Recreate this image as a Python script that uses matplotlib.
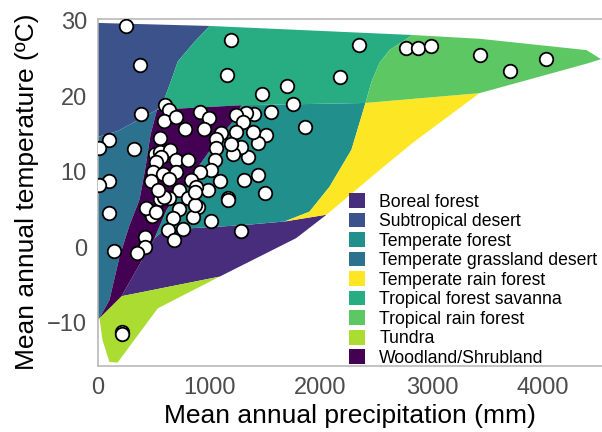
import matplotlib.pyplot as plt
from matplotlib.patches import Patch

plt.rcParams['font.family'] = ['Liberation Sans', 'DejaVu Sans']

# Biome polygons (precipitation mm, temperature C)
tundra_p = [13, 40, 103, 175, 537, 1093, 211]
tundra_t = [-9.4, -12.3, -15.2, -15.3, -8.1, -3.9, -6.5]

boreal_p = [508, 597, 1289, 1676, 2053, 1781, 1093, 211]
boreal_t = [1.2, 2.3, 2.9, 3.4, 4.3, 1.2, -3.9, -6.5]

woodland_p = [530, 1289, 1199, 1110, 615, 508, 211, 13, 103, 193, 283, 373, 427, 472]
woodland_t = [18.2, 18.8, 16.4, 14.9, 4.9, 1.2, -6.5, -9.4, -7.0, -1.3, 2.9, 6.3, 10.6, 14.9]

grassland_p = [0, 180, 530, 472, 427, 373, 283, 193, 103, 13, 0]
grassland_t = [14.6, 15.4, 18.2, 14.9, 10.6, 6.3, 2.9, -1.3, -7.0, -9.4, -9.6]

desert_p = [0, 1002, 867, 717, 658, 598, 530, 180, 0]
desert_t = [29.7, 29.3, 27.2, 24.6, 22.1, 19.7, 18.2, 15.4, 14.6]

savanna_p = [1002, 2825, 2619, 2529, 2457, 2403, 1289, 530, 598, 658, 717, 867]
savanna_t = [29.3, 28.1, 26.1, 24.4, 21.9, 19.1, 18.8, 18.2, 19.7, 22.1, 24.6, 27.2]

trop_rain_p = [2825, 3430, 4389, 4520, 4389, 3428, 2403, 2457, 2529, 2619]
trop_rain_t = [28.1, 27.6, 26.1, 24.9, 24.3, 20.4, 19.1, 21.9, 24.4, 26.1]

temp_rain_p = [2403, 3428, 2826, 2529, 2053, 1676, 1900, 2080, 2277]
temp_rain_t = [19.1, 20.4, 13.8, 10.2, 4.3, 3.4, 4.7, 8.0, 12.9]

temp_forest_p = [1289, 2403, 2277, 2080, 1900, 1676, 1289, 597, 508, 615, 1110, 1199]
temp_forest_t = [18.8, 19.1, 12.9, 8.0, 4.7, 3.4, 2.9, 2.3, 1.2, 4.9, 14.9, 16.4]

biome_names = ['Boreal forest', 'Subtropical desert', 'Temperate forest',
               'Temperate grassland desert', 'Temperate rain forest',
               'Tropical forest savanna', 'Tropical rain forest', 'Tundra',
               'Woodland/Shrubland']
biome_colors = ['#472D7B', '#3B528B', '#21908C', '#2C728E', '#FDE725',
                '#27AD81', '#5DC863', '#AADC32', '#440154']
biome_polys = [(boreal_p, boreal_t), (desert_p, desert_t),
               (temp_forest_p, temp_forest_t), (grassland_p, grassland_t),
               (temp_rain_p, temp_rain_t), (savanna_p, savanna_t),
               (trop_rain_p, trop_rain_t), (tundra_p, tundra_t),
               (woodland_p, woodland_t)]

# Site points
site_precip = [253, 373, 1197, 1157, 1469, 1700, 1748, 1857, 2176, 2343, 2763, 2873,
               2988, 3430, 3697, 4027, 1550, 1511, 1436, 1436, 1496, 1310, 1346, 1287,
               1211, 1166, 1287, 1406, 1332, 1242, 1301, 1242, 1391, 1107, 1062, 1062,
               1197, 1047, 1017, 1092, 987, 1011, 912, 993, 948, 782, 606, 642, 597,
               703, 553, 388, 103, 13, 319, 103, 13, 103, 144, 449, 481, 418, 424, 350,
               214, 216, 508, 553, 651, 568, 523, 703, 807, 492, 582, 703, 912, 642,
               837, 478, 882, 726, 553, 642, 807, 897, 732, 433, 523, 672, 852, 627,
               762, 687, 1164, 597, 867, 535, 867]
site_temp = [29.3, 24.1, 27.5, 22.8, 20.3, 21.4, 19.0, 15.9, 22.6, 26.8, 26.4, 26.4,
             26.6, 25.5, 23.3, 24.9, 17.9, 14.9, 13.8, 9.6, 7.2, 8.9, 12.0, 13.3,
             12.4, 6.5, 2.1, 17.7, 17.8, 17.5, 16.6, 15.3, 15.2, 15.1, 14.3, 13.1,
             13.7, 11.5, 10.2, 8.8, 7.6, 3.4, 17.9, 17.1, 15.6, 15.6, 18.8, 18.2, 16.7,
             17.3, 14.4, 17.7, 14.2, 13.1, 13.0, 8.8, 8.2, 4.5, -0.5, 4.9, 4.1, 1.3, 0.0, -0.8,
             -11.2, -11.5, 12.4, 12.6, 12.9, 12.0, 11.3, 11.5, 11.6, 10.0, 9.7, 10.0, 10.0, 9.0,
             8.9, 8.8, 8.0, 7.6, 6.4, 6.5, 6.5, 5.3, 5.0, 5.2, 4.6, 3.9, 4.0, 2.3,
             2.4, 1.0, 6.3, 6.7, 5.6, 7.6, 7.3]

fig = plt.figure(figsize=(6.02, 4.32), dpi=100)
ax = fig.add_axes([98 / 602, 66.3 / 432, 504 / 602, 347 / 432])

for (px, py), col in zip(biome_polys, biome_colors):
    ax.fill(px, py, color=col, lw=0, zorder=1)

ax.scatter(site_precip, site_temp, s=95, facecolor='white', edgecolor='black',
           linewidths=1.3, zorder=3)

ax.set_xlim(0, 4528)
ax.set_ylim(-15.7, 30.26)
ax.set_xticks([0, 1000, 2000, 3000, 4000])
ax.set_yticks([-10, 0, 10, 20, 30])
ax.set_yticklabels(['\u221210', '0', '10', '20', '30'])
ax.tick_params(length=0, labelsize=17, labelcolor='#4D4D4D', pad=8)

for side in ['left', 'top', 'bottom']:
    ax.spines[side].set_color('#B3B3B3')
    ax.spines[side].set_linewidth(1.1)
ax.spines['right'].set_visible(False)

ax.set_xlabel('Mean annual precipitation (mm)', fontsize=19, labelpad=4)
ax.set_ylabel('Mean annual temperature (ºC)', fontsize=19, labelpad=6)

handles = [Patch(facecolor=c, edgecolor='none') for c in biome_colors]
ax.legend(handles, biome_names, loc='upper left', bbox_to_anchor=(0.4986, 0.497),
          frameon=False, fontsize=12.7, handlelength=0.9, handleheight=0.9,
          handletextpad=0.8, labelspacing=0.12, borderpad=0, borderaxespad=0)

fig.savefig('out.png', dpi=100)
